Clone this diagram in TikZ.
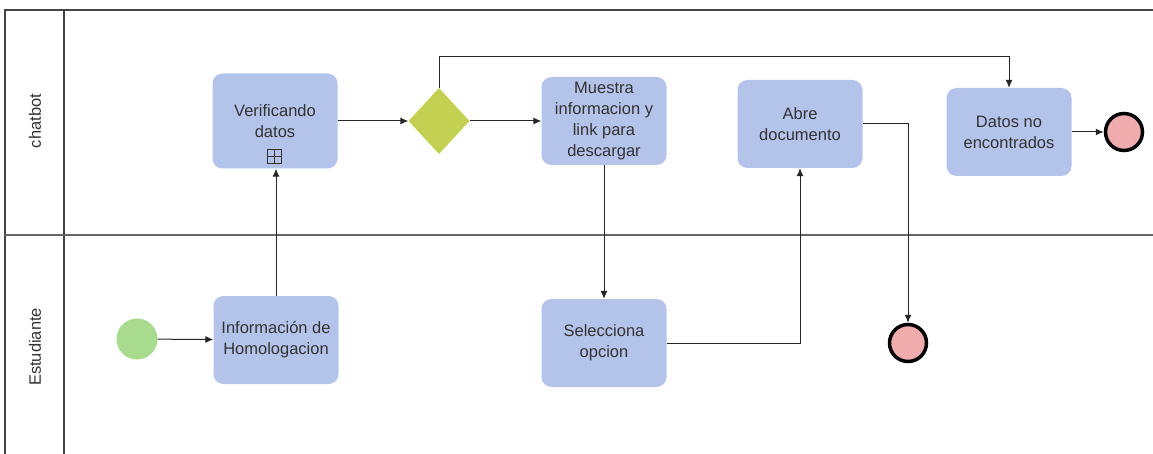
\documentclass[tikz,border=0pt]{standalone}
\usepackage{fontspec}
\setmainfont{Liberation Sans}
\usetikzlibrary{arrows.meta,shapes.geometric}
\definecolor{taskblue}{HTML}{B3C3EA}
\definecolor{gatewaygreen}{HTML}{C2D151}
\definecolor{startgreen}{HTML}{A9DB8F}
\definecolor{endpink}{HTML}{F0ACAC}
\definecolor{lanegray}{HTML}{444444}
\definecolor{textgray}{HTML}{333333}
\tikzset{
  >={Latex[length=8pt,width=7pt]},
}
\tikzstyle{lane}=[lanegray,line width=1.3pt]
\tikzstyle{task}=[rectangle,rounded corners=10pt,fill=taskblue,minimum width=125pt,minimum height=88pt,inner sep=2pt,align=center,text=textgray,font=\fontsize{16.5}{21}\selectfont]
\tikzstyle{gateway}=[diamond,fill=gatewaygreen,minimum width=61pt,minimum height=66pt,inner sep=0pt]
\tikzstyle{startev}=[circle,fill=startgreen,minimum size=41pt,inner sep=0pt]
\tikzstyle{endev}=[circle,draw=black,line width=3.5pt,fill=endpink,minimum size=37pt,inner sep=0pt]
\tikzstyle{flow}=[line width=1pt,black!85,->]
\tikzstyle{lanelabel}=[rotate=90,text=textgray,font=\fontsize{16.5}{20}\selectfont]

\begin{document}
\begin{tikzpicture}[x=1pt,y=-1pt]
    \useasboundingbox (0,0) rectangle (1153,454);
    % lanes
    \draw[lane] (1153,10)--(5,10)--(5,454);
    \draw[lane] (64,10)--(64,454);
    \draw[gray!80!black,line width=2pt] (5,235)--(1153,235);
    \node[lanelabel] (chatbot) at (35,121) {chatbot};
    \node[lanelabel] (estudiante) at (35,347) {Estudiante};
    % chatbot lane
    \node[task,minimum height=95pt] (verif) at (275,121) {Verificando\\datos};
    \draw[textgray,line width=1pt] (267,150) rectangle (281,164) (274,150)--(274,164) (267,157)--(281,157);
    \node[gateway] (gate) at (439,121) {};
    \node[task] (muestra) at (604,121) {Muestra\\informacion y\\link para\\descargar};
    \node[task] (abre) at (800,124) {Abre\\documento};
    \node[task] (nodatos) at (1009,132) {Datos no\\encontrados};
    \node[endev] (fin1) at (1124,132) {};
    % estudiante lane
    \node[startev] (inicio) at (137,339) {};
    \node[task] (info) at (276,340) {Información de\\Homologacion};
    \node[task] (selec) at (604,343) {Selecciona\\opcion};
    \node[endev] (fin2) at (908,343) {};
    % flows
    \draw[flow] (inicio)--(info);
    \draw[flow] (info.north)--(info.north |- verif.south);
    \draw[flow] (verif)--(gate);
    \draw[flow] (gate)--(muestra);
    \draw[flow] (gate.north)--(439,57)-|(nodatos.north);
    \draw[flow] (muestra)--(selec);
    \draw[flow] (selec.east)-|(abre.south);
    \draw[flow] (abre.east)-|(fin2.north);
    \draw[flow] (nodatos)--(fin1);
  \end{tikzpicture}
\end{document}
